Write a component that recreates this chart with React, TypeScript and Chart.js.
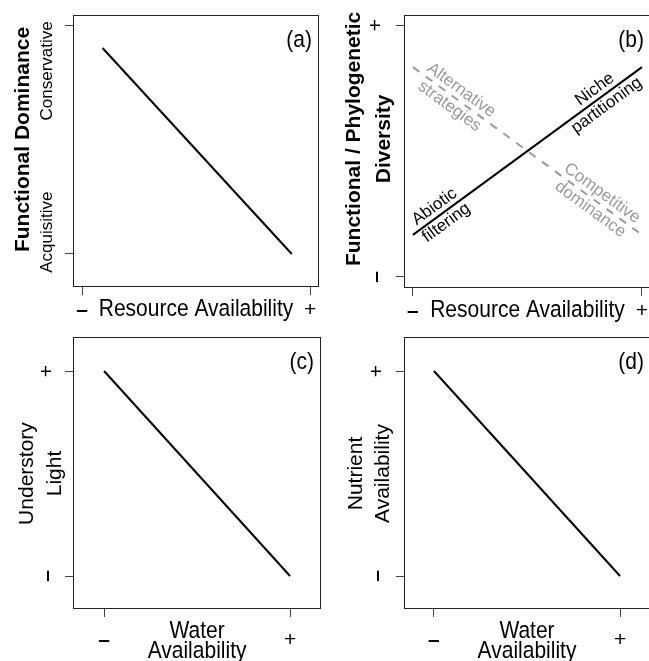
import React, { useEffect, useRef } from "react";
import { Chart, registerables } from "chart.js";

Chart.register(...registerables);

const FONT = '"Liberation Sans", Arial, Helvetica, sans-serif';
const BLACK = "#000000";
const GRAY = "#9a9a9a";
const TICK = "#444444";

// ---- shared axis data ----
const tickValues = [0, 1];
const xTickLabels = ["\u2013", "+"];
const yTickLabels = ["\u2013", "+"];
const panelLetters = ["(a)", "(b)", "(c)", "(d)"];

// ---- (a) functional dominance vs resource availability ----
const dominanceX = [0.09, 0.92];
const dominanceY = [0.9, 0];
const dominanceLevels = ["Acquisitive", "Conservative"];

// ---- (b) diversity vs resource availability ----
const resourceX = [0, 1];
const diversityY = [0.167, 0.833]; // abiotic filtering -> niche partitioning
const strategyY = [0.833, 0.167]; // alternative strategies -> competitive dominance
const solidNotes = [["Abiotic", "filtering"], ["Niche", "partitioning"]];
const solidNoteX = [0.12, 0.82];
const dashedNotes = [["Alternative", "strategies"], ["Competitive", "dominance"]];
const dashedNoteX = [0.185, 0.8];

// ---- (c) understory light vs water availability ----
const waterX = [0, 1];
const lightY = [1, 0];

// ---- (d) nutrient availability vs water availability ----
const nutrientY = [1, 0];

type Area = { left: number; top: number; right: number; bottom: number };
type PanelCfg = {
  left: number;
  top: number;
  width: number;
  height: number;
  area: Area;
  xRange: [number, number];
  yRange: [number, number];
  xTickPad: number;
  datasets: any[];
  draw: (chart: any) => void;
};

function txt(
  ctx: CanvasRenderingContext2D,
  s: string,
  x: number,
  y: number,
  o: { size: number; bold?: boolean; color?: string; rot?: number; align?: CanvasTextAlign; sy?: number }
) {
  ctx.save();
  ctx.translate(x, y);
  if (o.rot) ctx.rotate(o.rot);
  if (o.sy) ctx.scale(1, o.sy);
  ctx.font = `${o.bold ? "bold " : ""}${o.size}px ${FONT}`;
  ctx.fillStyle = o.color || BLACK;
  ctx.textAlign = o.align || "center";
  ctx.textBaseline = "middle";
  ctx.fillText(s, 0, 0);
  ctx.restore();
}

const UP = -Math.PI / 2;
const TALL = 1.1;

function letter(chart: any, s: string) {
  const ca = chart.chartArea;
  txt(chart.ctx, s, ca.right - 6, ca.top + 26, { size: 21, align: "right", sy: TALL });
}

function yTickText(chart: any, dx: number) {
  const y = chart.scales.y;
  const ca = chart.chartArea;
  tickValues.forEach((v, i) => {
    txt(chart.ctx, yTickLabels[i], ca.left - dx, y.getPixelForValue(v), {
      size: 21,
      bold: i === 0,
      rot: UP,
    });
  });
}

function lineNotes(chart: any, xs: number[], ys: number[], notes: string[][], at: number[], color: string) {
  const { ctx } = chart;
  const sx = chart.scales.x;
  const sy = chart.scales.y;
  const p0x = sx.getPixelForValue(xs[0]);
  const p0y = sy.getPixelForValue(ys[0]);
  const p1x = sx.getPixelForValue(xs[1]);
  const p1y = sy.getPixelForValue(ys[1]);
  const ang = Math.atan2(p1y - p0y, p1x - p0x);
  notes.forEach((lines, i) => {
    const t = (at[i] - xs[0]) / (xs[1] - xs[0]);
    const vx = xs[0] + t * (xs[1] - xs[0]);
    const vy = ys[0] + t * (ys[1] - ys[0]);
    const px = sx.getPixelForValue(vx);
    const py = sy.getPixelForValue(vy);
    ctx.save();
    ctx.translate(px, py);
    ctx.rotate(ang);
    ctx.font = `17px ${FONT}`;
    ctx.fillStyle = color;
    ctx.textAlign = "center";
    ctx.textBaseline = "middle";
    ctx.fillText(lines[0], 0, -10);
    ctx.fillText(lines[1], 0, 10);
    ctx.restore();
  });
}

function series(xs: number[], ys: number[], color: string, dash: number[] = []) {
  return {
    data: xs.map((x, i) => ({ x, y: ys[i] })),
    borderColor: color,
    borderWidth: 2,
    borderDash: dash,
    borderCapStyle: "butt",
    fill: false,
    pointRadius: 0,
    tension: 0,
  };
}

const panels: PanelCfg[] = [
  {
    left: 0,
    top: 0,
    width: 324,
    height: 330,
    area: { left: 73, top: 15, right: 318, bottom: 286 },
    xRange: [-0.0395, 1.035],
    yRange: [-0.14, 1.044],
    xTickPad: 3,
    datasets: [series(dominanceX, dominanceY, BLACK)],
    draw: (chart) => {
      const { ctx, chartArea: ca } = chart;
      const x = chart.scales.x;
      const y = chart.scales.y;
      txt(ctx, "Functional Dominance", ca.left - 50, y.getPixelForValue(0.5), { size: 21, bold: true, rot: UP });
      txt(ctx, dominanceLevels[1], ca.left - 26, y.getPixelForValue(0.8), { size: 17, rot: UP });
      txt(ctx, dominanceLevels[0], ca.left - 26, y.getPixelForValue(0.095), { size: 17, rot: UP });
      txt(ctx, "Resource Availability", x.getPixelForValue(0.5), ca.bottom + 24, { size: 21, sy: TALL });
      letter(chart, panelLetters[0]);
    },
  },
  {
    left: 324,
    top: 0,
    width: 330,
    height: 330,
    area: { left: 80, top: 15, right: 326, bottom: 287 },
    xRange: [-0.039, 1.035],
    yRange: [-0.04, 1.04],
    xTickPad: 3,
    datasets: [series(resourceX, diversityY, BLACK), series(resourceX, strategyY, GRAY, [8, 8])],
    draw: (chart) => {
      const { ctx, chartArea: ca } = chart;
      const x = chart.scales.x;
      const y = chart.scales.y;
      const my = y.getPixelForValue(0.548);
      txt(ctx, "Functional / Phylogenetic", ca.left - 50, my, { size: 21, bold: true, rot: UP });
      txt(ctx, "Diversity", ca.left - 20, my, { size: 21, bold: true, rot: UP });
      yTickText(chart, 28);
      txt(ctx, "Resource Availability", x.getPixelForValue(0.5), ca.bottom + 24, { size: 21, sy: TALL });
      lineNotes(chart, resourceX, diversityY, solidNotes, solidNoteX, BLACK);
      lineNotes(chart, resourceX, strategyY, dashedNotes, dashedNoteX, GRAY);
      letter(chart, panelLetters[1]);
    },
  },
  {
    left: 0,
    top: 330,
    width: 324,
    height: 331,
    area: { left: 73, top: 7, right: 320, bottom: 278 },
    xRange: [-0.167, 1.161],
    yRange: [-0.156, 1.166],
    xTickPad: 11,
    datasets: [series(waterX, lightY, BLACK)],
    draw: (chart) => {
      const { ctx, chartArea: ca } = chart;
      const x = chart.scales.x;
      const y = chart.scales.y;
      const my = y.getPixelForValue(0.5);
      txt(ctx, "Understory", ca.left - 46, my, { size: 21, rot: UP });
      txt(ctx, "Light", ca.left - 18, my, { size: 21, rot: UP });
      yTickText(chart, 26);
      txt(ctx, "Water", x.getPixelForValue(0.5), ca.bottom + 24, { size: 21, sy: TALL });
      txt(ctx, "Availability", x.getPixelForValue(0.5), ca.bottom + 44, { size: 21, sy: TALL });
      letter(chart, panelLetters[2]);
    },
  },
  {
    left: 324,
    top: 330,
    width: 330,
    height: 331,
    area: { left: 80, top: 7, right: 326, bottom: 278 },
    xRange: [-0.161, 1.161],
    yRange: [-0.156, 1.166],
    xTickPad: 11,
    datasets: [series(waterX, nutrientY, BLACK)],
    draw: (chart) => {
      const { ctx, chartArea: ca } = chart;
      const x = chart.scales.x;
      const y = chart.scales.y;
      const my = y.getPixelForValue(0.5);
      txt(ctx, "Nutrient", ca.left - 48, my, { size: 21, rot: UP });
      txt(ctx, "Availability", ca.left - 21, my, { size: 21, rot: UP });
      yTickText(chart, 27);
      txt(ctx, "Water", x.getPixelForValue(0.5), ca.bottom + 24, { size: 21, sy: TALL });
      txt(ctx, "Availability", x.getPixelForValue(0.5), ca.bottom + 44, { size: 21, sy: TALL });
      letter(chart, panelLetters[3]);
    },
  },
];

function Panel({ cfg }: { cfg: PanelCfg }) {
  const ref = useRef<HTMLCanvasElement | null>(null);
  useEffect(() => {
    const canvas = ref.current;
    if (!canvas) return;
    const { area, width, height } = cfg;
    const chart = new Chart(canvas, {
      type: "line",
      data: { datasets: cfg.datasets },
      options: {
        animation: false,
        responsive: false,
        maintainAspectRatio: false,
        devicePixelRatio: 1,
        events: [],
        layout: { padding: { left: 0, top: area.top, right: width - area.right, bottom: 0 } },
        plugins: { legend: { display: false }, tooltip: { enabled: false }, title: { display: false } },
        scales: {
          x: {
            type: "linear",
            min: cfg.xRange[0],
            max: cfg.xRange[1],
            afterBuildTicks: (s: any) => {
              s.ticks = tickValues.map((v) => ({ value: v }));
            },
            afterFit: (s: any) => {
              s.height = height - area.bottom;
            },
            ticks: {
              autoSkip: false,
              maxRotation: 0,
              minRotation: 0,
              padding: cfg.xTickPad,
              color: BLACK,
              font: (c: any) => ({ family: FONT, size: 21, weight: c.index === 0 ? "bold" : "normal" }),
              callback: (_v: any, i: number) => xTickLabels[i],
            },
            grid: { drawOnChartArea: false, drawTicks: true, tickLength: 9, color: TICK, lineWidth: 1 },
            border: { display: false },
          },
          y: {
            type: "linear",
            min: cfg.yRange[0],
            max: cfg.yRange[1],
            afterBuildTicks: (s: any) => {
              s.ticks = tickValues.map((v) => ({ value: v }));
            },
            afterFit: (s: any) => {
              s.width = area.left;
            },
            ticks: { display: false },
            grid: { drawOnChartArea: false, drawTicks: true, tickLength: 8, color: TICK, lineWidth: 1 },
            border: { display: false },
          },
        },
      },
      plugins: [
        {
          id: "boxAndText",
          afterDraw: (c: any) => {
            const ctx = c.ctx;
            const ca = c.chartArea;
            ctx.save();
            ctx.strokeStyle = "#222222";
            ctx.lineWidth = 1;
            ctx.strokeRect(Math.round(ca.left) + 0.5, Math.round(ca.top) + 0.5, Math.round(ca.right - ca.left), Math.round(ca.bottom - ca.top));
            ctx.restore();
            cfg.draw(c);
          },
        },
      ],
    } as any);
    return () => chart.destroy();
  }, [cfg]);
  return (
    <canvas
      ref={ref}
      width={cfg.width}
      height={cfg.height}
      style={{ position: "absolute", left: cfg.left, top: cfg.top, width: cfg.width, height: cfg.height }}
    />
  );
}

export default function App() {
  return (
    <div
      style={{
        position: "absolute",
        left: 0,
        top: 0,
        width: 649,
        height: 661,
        overflow: "hidden",
        background: "#ffffff",
      }}
    >
      {panels.map((p, i) => (
        <Panel key={i} cfg={p} />
      ))}
    </div>
  );
}
